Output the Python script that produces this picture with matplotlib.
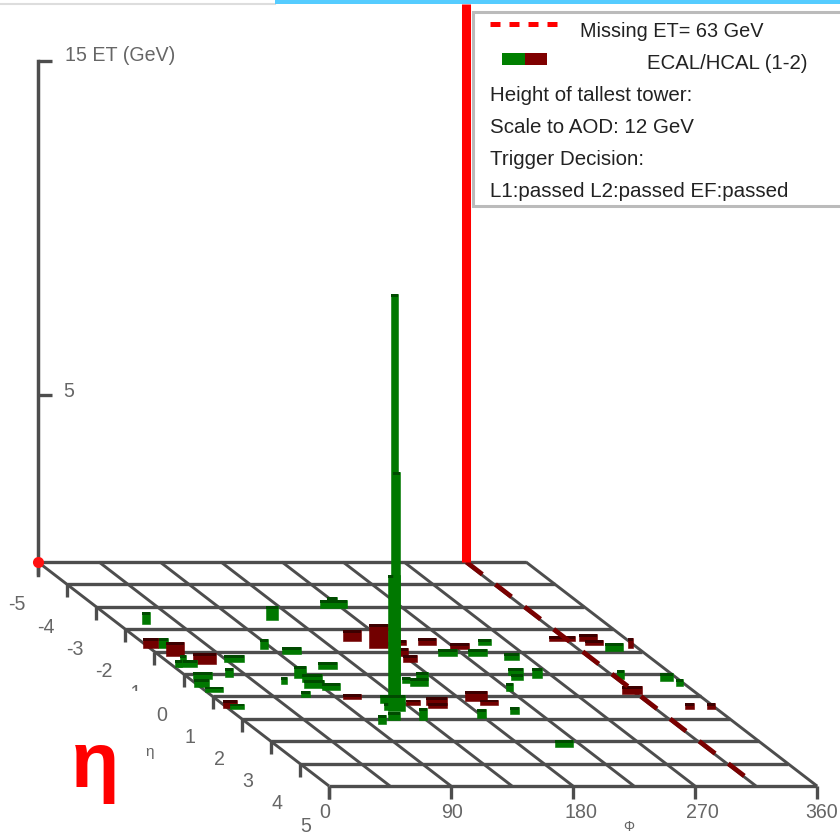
import matplotlib
matplotlib.use('Agg')
import matplotlib.pyplot as plt
import numpy as np
from matplotlib.patches import Rectangle

plt.rcParams['font.family'] = ['Liberation Sans', 'DejaVu Sans']

# ECAL towers: phi [deg], eta, ET [GeV], cell width in phi [deg]
ecal_phi = [20.2, 117, 173.9, 176.6, 9.7, 48.7, 9.6, 3, 11, 9.2, 1, 5.2, 30.6, 5.9, 83.4, 98.8, 111, 82, 64.5, 87, 82.8,
            93.4, 67.9, 120, 116.7, 98.4, 111, 130.7, 127.3, 126.4, 121.6, 170, 162, 155.6, 133, 212, 234, 249.7, 177.6,
            205.7, 255.4, 243.8, 240, 256.9, 224, 210.6, 340, 317.5, 349.5, 354]
ecal_eta = [-2.23, -2.41, -2.95, -3.125, -1.16, -0.54, -0.31, -0.31, -0.54, 0.22, 0.58, 0.8, 0.13, 1.56, -1.12, -0.89,
            -0.22, 0.18, 0.45, 0.36, 0.63, 0.71, 1.03, 1.29, 1.61, 2.23, 2.05, 1.16, 1.38, 1.34, 1.65, 0.27, 0.54, 0.4,
            2.05, -0.8, -0.8, -1.29, 1.96, 1.79, -0.63, 0.04, 0.27, 0.18, 0.76, 3.26, -1.03, 0.22, 0.31, 0.54]
ecal_et = [0.36, 0.42, 0.24, 0.21, 0.3, 0.21, 0.21, 0.21, 0.21, 0.21, 0.24, 0.15, 0.27, 0.15, 0.3, 0.21, 0.21, 0.36, 0.21,
           0.24, 0.24, 0.21, 0.18, 0.24, 0.21, 0.27, 0.24, 12.16, 6.98, 3.86, 0.48, 0.24, 0.24, 0.18, 0.36, 0.21, 0.21,
           0.18, 0.27, 0.21, 0.21, 0.21, 0.18, 0.3, 0.24, 0.21, 0.24, 0.27, 0.24, 0.21]
ecal_dphi = [5.9, 8.9, 19.9, 7.4, 7.4, 14.8, 14, 5.2, 4.4, 14, 11, 13.3, 5.9, 10.3, 5.9, 14, 14, 8.9, 4.4, 14.8, 14.8,
             13.3, 6.6, 5.9, 6.6, 5.9, 8.9, 5.2, 5.2, 8.9, 12.5, 8.9, 13.3, 5.9, 5.9, 14, 14, 9.6, 6.6,
             6.6, 11, 11, 8.9, 7.4, 5.2, 13.3, 13.3, 5.2, 9.6, 5.2]

# HCAL towers
hcal_phi = [0.5, 11, 25, 1.6, 156, 168.7, 100, 189.6, 207, 228, 180, 178.5, 140, 156.8, 154.7, 189.8, 195.5, 310.8, 330,
            330.6, 354.6, 312, 339.7, 355.6]
hcal_eta = [-1.16, -0.8, -0.45, 1.52, -1.47, -1.16, 1.12, -1.29, -1.29, -1.12, -0.8, -0.54, 1.38, 1.38, 1.52, 1.21, 1.38,
            -1.47, -1.47, -1.29, -1.16, 0.89, 1.56, 1.56]
hcal_et = [0.3, 0.42, 0.33, 0.24, 0.33, 0.72, 0.15, 0.15, 0.21, 0.18, 0.24, 0.21, 0.15, 0.24, 0.15, 0.3, 0.15, 0.15, 0.21,
           0.15, 0.3, 0.24, 0.18, 0.18]
hcal_dphi = [11, 13.3, 17, 10.3, 13.3, 14, 13.3, 4.4, 13.3, 14, 5.9, 10.3, 10.3, 15.5, 14, 16.2, 13.3, 19, 13.3, 13.3, 3.7,
             14.8, 6.6, 5.9]

# missing ET line and its shadow on the floor
met_phi = 316
met_height = 16.7
met_shadow_eta = [-5, -4, -3, -2, -1, 0, 1, 2, 3, 4]
met_shadow_len = 0.55

eta_ticks = [-5, -4, -3, -2, -1, 0, 1, 2, 3, 4, 5]
phi_grid = [0, 45, 90, 135, 180, 225, 270, 315, 360]
phi_ticks = [0, 90, 180, 270, 360]
et_ticks = [5, 15]

legend_lines = ['Height of tallest tower:', 'Scale to AOD: 12 GeV', 'Trigger Decision:',
                'L1:passed L2:passed EF:passed']

GRID = '#4d4d4d'
LABEL = '#666666'


def project(phi, eta, et=0):
  # floor is sheared, ET goes straight up
  phi, eta, et = np.asarray(phi, float), np.asarray(eta, float), np.asarray(et, float)
  x = 38 + phi / 360 * 488 + (eta + 5) * 29.1
  y = 562 + (eta + 5) * 22.4 - et * 33.4
  return x, y


fig = plt.figure(figsize=(8.4, 8.35), dpi=100)
ax = fig.add_axes([0, 0, 1, 1])
ax.set_xlim(0, 840)
ax.set_ylim(835, 0)
ax.axis('off')

# page strip along the top
ax.plot([0, 275], [3.5, 3.5], color='#dddddd', lw=1.5, zorder=1)
ax.bar(557.5, 3.5, width=565, bottom=0, color='#55ccff', zorder=1)

# floor grid
for eta in eta_ticks:
  x, y = project([0, 360], [eta, eta])
  ax.plot(x, y, color=GRID, lw=2.4, solid_capstyle='butt', zorder=2)
  tx, ty = project(0, eta)
  ax.plot([tx, tx], [ty, ty + 13], color=GRID, lw=2.4, solid_capstyle='butt', zorder=2)
for phi in phi_grid:
  x, y = project([phi, phi], [-5, 5])
  ax.plot(x, y, color=GRID, lw=2.1, solid_capstyle='butt', zorder=2)
for phi in phi_ticks:
  tx, ty = project(phi, 5)
  ax.plot([tx, tx], [ty, ty + 13], color=GRID, lw=2.4, solid_capstyle='butt', zorder=2)

# ET axis
x0, y0 = project(0, -5)
x1, y1 = project(0, -5, 15)
ax.plot([x0, x1], [y0 + 13, y1], color=GRID, lw=2.5, solid_capstyle='projecting', zorder=2)
for et in et_ticks:
  tx, ty = project(0, -5, et)
  ax.plot([tx, tx + 14], [ty, ty], color=GRID, lw=2.4, solid_capstyle='butt', zorder=2)
ax.text(65, 55.5, '15 ET (GeV)', color=LABEL, fontsize=14.1, va='center', ha='left')
ax.text(63, 391.5, '5', color=LABEL, fontsize=14.1, va='center', ha='left')
ax.plot(x0, y0, 'o', color='#ff1010', ms=8, mew=0, zorder=5)

# tick labels
for eta in eta_ticks:
  tx, ty = project(0, eta)
  t = ax.text(tx - 21 - 0.2 * (eta + 5), ty + 43 - 0.3 * (eta + 5), str(eta), color=LABEL, fontsize=14.1,
              va='center', ha='center')
  if eta == -1:
    # this one is cut off in the original
    t.set_clip_path(Rectangle((100, 680), 60, 11, transform=ax.transData))
    t.set_clip_on(True)
for phi, lx in zip(phi_ticks, [325, 452, 581, 702, 822]):
  ax.text(lx, 813, str(phi), color=LABEL, fontsize=14.1, va='center', ha='center')
ax.text(150, 752, 'η', color=LABEL, fontsize=11, va='center', ha='center')
ax.text(629, 827, 'Φ', color=LABEL, fontsize=10, va='center', ha='center')
ax.text(95, 766, 'η', color='#ff0000', fontsize=57, fontweight='bold', va='center', ha='center')


def draw_tower(phi, eta, et, dphi, color, top):
  x, y = project(phi, eta)
  w = dphi / 360 * 488
  h = et * 33.4
  cap = min(3, h / 2)
  ax.bar(x, -h, width=w, bottom=y, color=color, edgecolor=color, lw=0.4, zorder=3)
  ax.bar(x, cap, width=w, bottom=y - h, color=top, edgecolor='none', zorder=3)


# back to front over both calorimeters
towers = [(e, p, t, d, '#007800', '#004a00') for p, e, t, d in zip(ecal_phi, ecal_eta, ecal_et, ecal_dphi)]
towers += [(e, p, t, d, '#720000', '#3c0000') for p, e, t, d in zip(hcal_phi, hcal_eta, hcal_et, hcal_dphi)]
for e, p, t, d, c, top in sorted(towers, key=lambda r: r[0]):
  draw_tower(p, e, t, d, c, top)

# missing ET
x, y = project([met_phi, met_phi], [-5, -5], [0, met_height])
ax.plot(x, y, color='#ff0000', lw=6.5, solid_capstyle='butt', zorder=4)
for eta in met_shadow_eta:
  x, y = project([met_phi, met_phi], [eta, eta + met_shadow_len])
  ax.plot(x, y, color='#7a0000', lw=3.4, solid_capstyle='butt', zorder=3)

# legend
ax.add_patch(Rectangle((473, 12), 380, 194, facecolor='white', edgecolor='#bbbbbb', lw=2.2, zorder=6))
ax.plot([490, 557], [24, 24], color='#ff0000', lw=3.6, linestyle=(0, (2, 1.8)), zorder=7)
ax.bar(513.5, 12, width=23, bottom=53, color='#007f00', zorder=7)
ax.bar(536, 12, width=22, bottom=53, color='#7f0000', zorder=7)
ax.text(580, 31.5, 'Missing ET= 63 GeV', color='#222222', fontsize=14.3, va='center', ha='left', zorder=7)
ax.text(647, 63.5, 'ECAL/HCAL (1-2)', color='#222222', fontsize=14.7, va='center', ha='left', zorder=7)
for i, line in enumerate(legend_lines):
  ax.text(490, 95.5 + i * 32, line, color='#222222', fontsize=14.8, va='center', ha='left', zorder=7)

fig.savefig('out.png', dpi=100)
